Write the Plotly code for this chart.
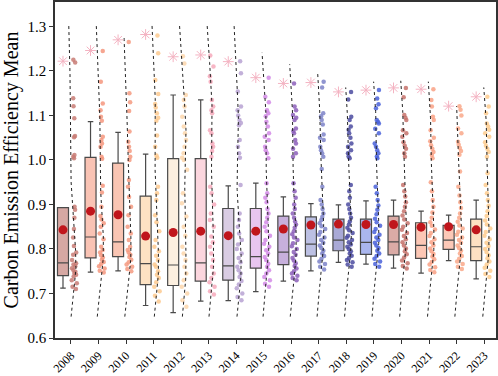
import numpy as np
import plotly.graph_objects as go

years = [str(y) for y in range(2008, 2024)]

# box statistics
q1 = [0.740, 0.780, 0.783, 0.720, 0.718, 0.728, 0.730, 0.757, 0.765, 0.784, 0.796, 0.788, 0.787, 0.779, 0.799, 0.774]
median = [0.769, 0.827, 0.816, 0.767, 0.764, 0.769, 0.762, 0.783, 0.793, 0.811, 0.820, 0.815, 0.816, 0.808, 0.820, 0.805]
q3 = [0.893, 1.006, 0.993, 0.919, 1.003, 1.003, 0.891, 0.891, 0.874, 0.872, 0.867, 0.867, 0.874, 0.859, 0.853, 0.867]
lower_whisker = [0.712, 0.748, 0.751, 0.673, 0.657, 0.683, 0.684, 0.704, 0.728, 0.751, 0.770, 0.766, 0.757, 0.746, 0.774, 0.733]
upper_whisker = [0.893, 1.086, 1.062, 1.013, 1.146, 1.135, 0.942, 0.948, 0.917, 0.902, 0.899, 0.908, 0.910, 0.885, 0.876, 0.910]
means = [0.843, 0.885, 0.877, 0.829, 0.837, 0.840, 0.830, 0.840, 0.845, 0.854, 0.856, 0.855, 0.855, 0.849, 0.850, 0.843]
maxima = [1.222, 1.246, 1.270, 1.282, 1.232, 1.236, 1.221, 1.185, 1.172, 1.174, 1.153, 1.157, 1.162, 1.159, 1.121, 1.142]

# extent of the dotted density outlines
curve_bottom = [0.648] * 16
curve_top = [1.303, 1.303, 1.276, 1.303, 1.303, 1.301, 1.301, 1.241, 1.215, 1.196, 1.163, 1.176, 1.178, 1.176, 1.121, 1.163]

# individual observations per year
v2008 = [1.225, 1.219, 1.139, 1.121, 1.094, 1.054, 1.051, 1.011, 1.007, 1.004, 0.895, 0.888, 0.870, 0.845, 0.826,
         0.807, 0.792, 0.787, 0.775, 0.768, 0.765, 0.761, 0.757, 0.753, 0.749, 0.746, 0.742, 0.738, 0.730, 0.723, 0.715, 0.710]
v2009 = [1.245, 1.176, 1.127, 1.112, 1.097, 1.088, 1.052, 1.045, 1.037, 1.030, 1.007, 1.003, 0.942, 0.927, 0.895,
         0.874, 0.866, 0.858, 0.850, 0.835, 0.822, 0.805, 0.798, 0.792, 0.786, 0.781, 0.776, 0.771, 0.766, 0.761, 0.756, 0.751, 0.747]
v2010 = [1.265, 1.150, 1.130, 1.110, 1.064, 1.041, 1.030, 1.020, 1.007, 1.000, 0.955, 0.940, 0.917, 0.895, 0.876,
         0.850, 0.835, 0.820, 0.805, 0.798, 0.792, 0.787, 0.782, 0.776, 0.770, 0.765, 0.760, 0.755, 0.750]
v2011 = [1.280, 1.240, 1.180, 1.148, 1.126, 1.118, 1.105, 1.095, 1.088, 1.055, 1.030, 1.010, 1.005, 0.940, 0.925,
         0.910, 0.876, 0.860, 0.840, 0.820, 0.805, 0.795, 0.785, 0.775, 0.765, 0.760, 0.750, 0.742, 0.735, 0.725, 0.715,
         0.705, 0.695, 0.682]
v2012 = [1.233, 1.217, 1.146, 1.135, 1.120, 1.097, 1.075, 1.060, 1.045, 1.030, 1.015, 1.005, 1.000, 0.978, 0.925,
         0.903, 0.873, 0.850, 0.830, 0.805, 0.790, 0.775, 0.760, 0.745, 0.730, 0.715, 0.700, 0.685, 0.670]
v2013 = [1.235, 1.210, 1.188, 1.176, 1.135, 1.120, 1.112, 1.105, 1.067, 1.060, 1.037, 1.030, 1.020, 1.007, 0.940,
         0.925, 0.900, 0.880, 0.865, 0.850, 0.828, 0.815, 0.805, 0.790, 0.775, 0.760, 0.745, 0.735, 0.725, 0.715, 0.705, 0.698]
v2014 = [1.222, 1.195, 1.154, 1.120, 1.112, 1.100, 1.090, 1.083, 1.078, 1.045, 1.030, 1.015, 1.005, 0.944, 0.880,
         0.865, 0.850, 0.835, 0.820, 0.810, 0.800, 0.790, 0.780, 0.770, 0.760, 0.752, 0.745, 0.737, 0.728, 0.720, 0.712,
         0.700, 0.692, 0.685]
v2015 = [1.185, 1.142, 1.130, 1.112, 1.105, 1.098, 1.086, 1.075, 1.060, 1.052, 1.045, 1.030, 1.022, 1.015, 1.004,
         0.948, 0.925, 0.915, 0.905, 0.890, 0.880, 0.870, 0.860, 0.850, 0.840, 0.830, 0.820, 0.812, 0.805, 0.797, 0.790,
         0.782, 0.775, 0.767, 0.760, 0.752, 0.745, 0.737, 0.730, 0.722, 0.715]
v2016 = [1.172, 1.120, 1.112, 1.101, 1.095, 1.090, 1.071, 1.065, 1.060, 1.045, 1.037, 1.025, 1.015, 1.007, 0.948,
         0.930, 0.915, 0.900, 0.890, 0.880, 0.870, 0.862, 0.855, 0.848, 0.840, 0.833, 0.826, 0.820, 0.813, 0.806, 0.800,
         0.793, 0.787, 0.780, 0.774, 0.768, 0.762, 0.756, 0.750, 0.745, 0.740, 0.735, 0.730]
v2017 = [1.176, 1.163, 1.105, 1.098, 1.090, 1.080, 1.057, 1.050, 1.045, 1.030, 1.022, 1.015, 1.007, 0.980, 0.940,
         0.910, 0.900, 0.890, 0.880, 0.872, 0.865, 0.858, 0.851, 0.845, 0.838, 0.832, 0.826, 0.820, 0.814, 0.808, 0.802,
         0.796, 0.790, 0.784, 0.778, 0.772, 0.766, 0.760, 0.754]
v2018 = [1.153, 1.136, 1.097, 1.090, 1.075, 1.068, 1.060, 1.050, 1.037, 1.030, 1.022, 1.015, 1.008, 1.004, 0.944,
         0.930, 0.915, 0.900, 0.890, 0.880, 0.870, 0.862, 0.855, 0.848, 0.842, 0.836, 0.830, 0.825, 0.820, 0.815, 0.810,
         0.805, 0.800, 0.795, 0.790, 0.785, 0.780, 0.775, 0.770, 0.765, 0.760]
v2019 = [1.157, 1.138, 1.125, 1.116, 1.090, 1.086, 1.082, 1.070, 1.060, 1.037, 1.030, 1.022, 1.015, 1.008, 1.004,
         0.940, 0.925, 0.910, 0.898, 0.888, 0.878, 0.868, 0.860, 0.852, 0.845, 0.838, 0.832, 0.826, 0.820, 0.814, 0.808,
         0.802, 0.796, 0.790, 0.784, 0.778, 0.772, 0.766, 0.760]
v2020 = [1.162, 1.141, 1.101, 1.095, 1.090, 1.067, 1.060, 1.052, 1.040, 1.032, 1.025, 1.015, 1.007, 0.944, 0.930,
         0.918, 0.905, 0.895, 0.885, 0.875, 0.866, 0.858, 0.850, 0.843, 0.836, 0.829, 0.822, 0.815, 0.808, 0.801, 0.795,
         0.788, 0.781, 0.774, 0.768, 0.762, 0.756]
v2021 = [1.159, 1.135, 1.120, 1.097, 1.090, 1.067, 1.050, 1.042, 1.033, 1.025, 1.018, 1.011, 1.004, 0.950, 0.930,
         0.910, 0.895, 0.882, 0.870, 0.860, 0.852, 0.844, 0.836, 0.829, 0.822, 0.815, 0.808, 0.801, 0.795, 0.789, 0.783,
         0.777, 0.771, 0.765, 0.759, 0.753, 0.748]
v2022 = [1.121, 1.113, 1.100, 1.071, 1.060, 1.041, 1.034, 1.027, 1.020, 1.012, 0.974, 0.940, 0.920, 0.905, 0.892,
         0.880, 0.870, 0.861, 0.853, 0.846, 0.839, 0.832, 0.826, 0.820, 0.814, 0.808, 0.802, 0.796, 0.790, 0.784, 0.778,
         0.772, 0.766, 0.760, 0.755]
v2023 = [1.142, 1.120, 1.105, 1.082, 1.075, 1.068, 1.060, 1.052, 1.040, 1.032, 1.025, 1.018, 1.007, 0.970, 0.944,
         0.925, 0.910, 0.897, 0.885, 0.874, 0.864, 0.855, 0.846, 0.838, 0.830, 0.822, 0.814, 0.807, 0.800, 0.793, 0.786,
         0.779, 0.772, 0.765, 0.758, 0.751, 0.744, 0.737]
observations = [v2008, v2009, v2010, v2011, v2012, v2013, v2014, v2015, v2016, v2017,
                v2018, v2019, v2020, v2021, v2022, v2023]

point_colors = ['#c87b74', '#f4967e', '#f59a80', '#fdc98e', '#fbd6ab', '#f6a9bb', '#b7a2d2', '#d28ae6',
                '#8c5fba', '#7c82c8', '#4b4ba0', '#4a62d9', '#c5726b', '#f9a185', '#f9a88a', '#fdcb8e']
box_colors = ['#d6a8a3', '#f9c3b4', '#f9c5b3', '#fde2c3', '#fdf0e0', '#fbd6de', '#d9cce3', '#e8c6f0',
              '#c7b0dc', '#bcc0e3', '#a9a9d6', '#aab6ee', '#daaba6', '#fcc7b5', '#fcc8b7', '#fde0c2']

FONT = 'Liberation Serif, Times New Roman, serif'
BOX_OFF = -0.29
PT_OFF = 0.125
CURVE_BASE = -0.10
CURVE_W = 0.28
BW = 0.075

fig = go.Figure()

for i in range(16):
    fig.add_trace(go.Box(
        x=[i + BOX_OFF], q1=[q1[i]], median=[median[i]], q3=[q3[i]],
        lowerfence=[lower_whisker[i]], upperfence=[upper_whisker[i]],
        width=0.4, whiskerwidth=0.5, boxpoints=False,
        fillcolor=box_colors[i], line=dict(color='#4a4a4a', width=1.2),
        showlegend=False, hoverinfo='skip'))

for i in range(16):
    vals = observations[i]
    fig.add_trace(go.Box(
        x=[i + PT_OFF] * len(vals), y=vals, width=0.25,
        boxpoints='all', jitter=1, pointpos=0,
        fillcolor='rgba(0,0,0,0)', line=dict(color='rgba(0,0,0,0)', width=0),
        marker=dict(size=4.5, color=point_colors[i], opacity=0.85),
        showlegend=False, hoverinfo='skip'))

for i in range(16):
    vals = np.array(observations[i])
    grid = np.linspace(curve_bottom[i], curve_top[i], 120)
    dens = np.exp(-0.5 * ((grid[:, None] - vals[None, :]) / BW) ** 2).sum(axis=1)
    xs = i + CURVE_BASE + CURVE_W * dens / dens.max()
    fig.add_trace(go.Scatter(
        x=xs, y=grid, mode='lines',
        line=dict(color='#222222', width=1, dash='dot'),
        showlegend=False, hoverinfo='skip'))

fig.add_trace(go.Scatter(
    x=[i + BOX_OFF for i in range(16)], y=maxima, mode='markers',
    marker=dict(symbol='asterisk-open', size=9, color='#f4b3c2', line=dict(width=1, color='#f4b3c2')),
    showlegend=False, hoverinfo='skip'))

fig.add_trace(go.Scatter(
    x=[i + BOX_OFF for i in range(16)], y=means, mode='markers',
    marker=dict(size=9, color='#c0161c'),
    showlegend=False, hoverinfo='skip'))

axis_common = dict(showline=True, mirror=True, linecolor='#333333', linewidth=1.5,
                   ticks='outside', ticklen=4, tickwidth=1.2, tickcolor='#333333',
                   showgrid=False, zeroline=False, automargin=False)

fig.update_layout(
    width=498, height=376,
    margin=dict(l=55, r=2, t=2, b=38),
    paper_bgcolor='white', plot_bgcolor='white',
    font=dict(family=FONT, color='black'),
    boxmode='overlay',
    xaxis=dict(range=[-0.58, 15.43], tickmode='array', tickvals=list(range(16)), ticktext=years,
               tickangle=-45, tickfont=dict(family=FONT, size=12, color='black'), **axis_common),
    yaxis=dict(range=[0.6, 1.355], tickmode='array', tickvals=[0.6, 0.7, 0.8, 0.9, 1.0, 1.1, 1.2, 1.3],
               ticktext=['0.6', '0.7', '0.8', '0.9', '1.0', '1.1', '1.2', '1.3'],
               tickfont=dict(family=FONT, size=15, color='black'),
               title=dict(text='Carbon Emission Efficiency Mean', font=dict(family=FONT, size=20, color='black'),
                          standoff=4),
               **axis_common),
)

fig.write_html('out.html', config={'displayModeBar': False},
               post_script="document.body.style.margin='0';document.body.style.overflow='hidden';")
